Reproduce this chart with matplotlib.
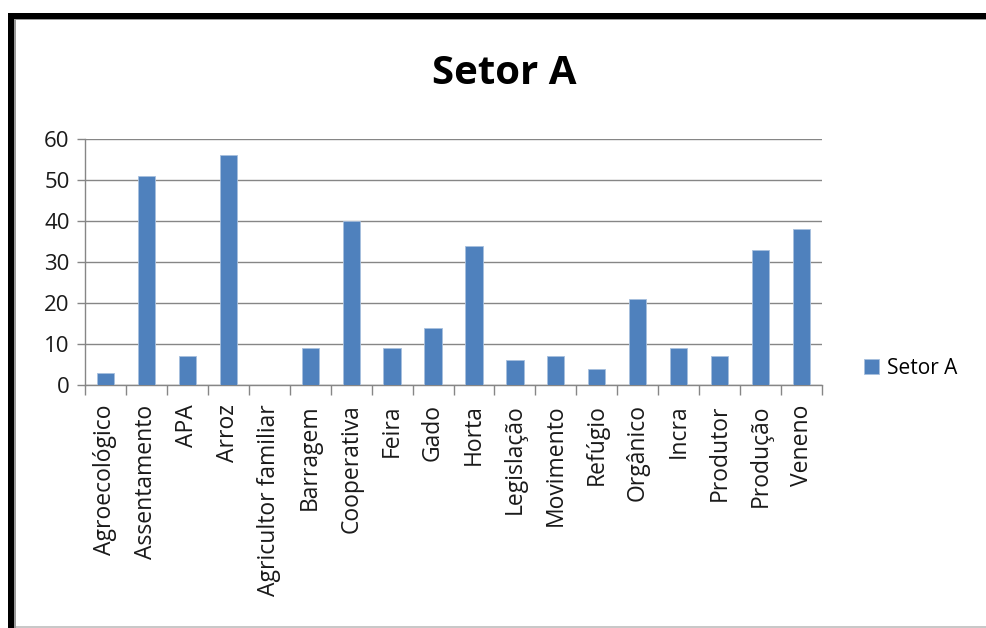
import matplotlib.pyplot as plt
import numpy as np
from matplotlib.figure import Figure
from matplotlib.patches import Rectangle

categories = [
    "Agroecológico", "Assentamento", "APA", "Arroz", "Agricultor familiar",
    "Barragem", "Cooperativa", "Feira", "Gado", "Horta", "Legislação",
    "Movimento", "Refúgio", "Orgânico", "Incra", "Produtor", "Produção",
    "Veneno",
]
setor_a = [3, 51, 7, 56, 0, 9, 40, 9, 14, 34, 6, 7, 4, 21, 9, 7, 33, 38]
y_ticks = [0, 10, 20, 30, 40, 50, 60]

BAR_COLOR = "#4F81BD"
GRID_COLOR = "#868686"
W, H = 986, 628


def _px_rect(x0: float, y0: float, x1: float, y1: float, color: str) -> Rectangle:
    # pixel coords (top-left origin) -> figure fraction
    return Rectangle(
        (x0 / W, 1 - y1 / H), (x1 - x0) / W, (y1 - y0) / H,
        transform=plt.gcf().transFigure, color=color, lw=0, zorder=10,
    )


def plot_bars() -> Figure:
    plt.rcParams["font.family"] = ["Open Sans", "DejaVu Sans"]
    fig = plt.figure(figsize=(W / 100, H / 100), dpi=100)
    ax = fig.add_axes([85 / W, 1 - 385 / H, (822 - 85) / W, (385 - 139) / H])

    x = np.arange(len(categories))
    ax.bar(x, setor_a, 0.42, color=BAR_COLOR, edgecolor="#A7BFDE",
           linewidth=0.6, label="Setor A", zorder=3)

    ax.set_xlim(-0.5, len(categories) - 0.5)
    ax.set_ylim(0, 60)
    ax.set_yticks(y_ticks)
    ax.set_yticklabels([str(v) for v in y_ticks], fontsize=16, color="#1a1a1a")
    ax.yaxis.grid(True, color=GRID_COLOR, linewidth=1.0, zorder=0)

    ax.set_xticks(x)
    ax.set_xticklabels(categories, rotation=90, fontsize=16.5,
                       color="#1a1a1a")
    ax.tick_params(axis="x", length=0, pad=14)
    ax.set_xticks(np.arange(-0.5, len(categories)), minor=True)
    ax.tick_params(axis="x", which="minor", length=7, color=GRID_COLOR,
                   width=1)
    ax.tick_params(axis="y", length=6, color=GRID_COLOR, width=1, pad=5)

    for side in ("top", "right"):
        ax.spines[side].set_visible(False)
    for side in ("left", "bottom"):
        ax.spines[side].set_color(GRID_COLOR)
        ax.spines[side].set_linewidth(1)

    fig.text(504 / W, 1 - 74 / H, "Setor A", ha="center", va="center",
             fontsize=29, fontweight="bold")

    ax.legend(loc="center left", bbox_to_anchor=(845 / W, 1 - 368 / H),
              bbox_transform=fig.transFigure, frameon=False, fontsize=15,
              handlelength=0.75, handleheight=0.75, handletextpad=0.35)

    # outer frame
    fig.patches.extend([
        _px_rect(8, 13, 14, H, "black"),
        _px_rect(8, 13, W, 19, "black"),
        _px_rect(14, 19, 16, H, "#9a9a9a"),
        _px_rect(14, 19, W, 20, "#9a9a9a"),
        _px_rect(16, 626, W, 628, "#c8c8c8"),
    ])
    return fig


if __name__ == "__main__":
    fig = plot_bars()
    fig.savefig("out.png", dpi=100, facecolor="white")
